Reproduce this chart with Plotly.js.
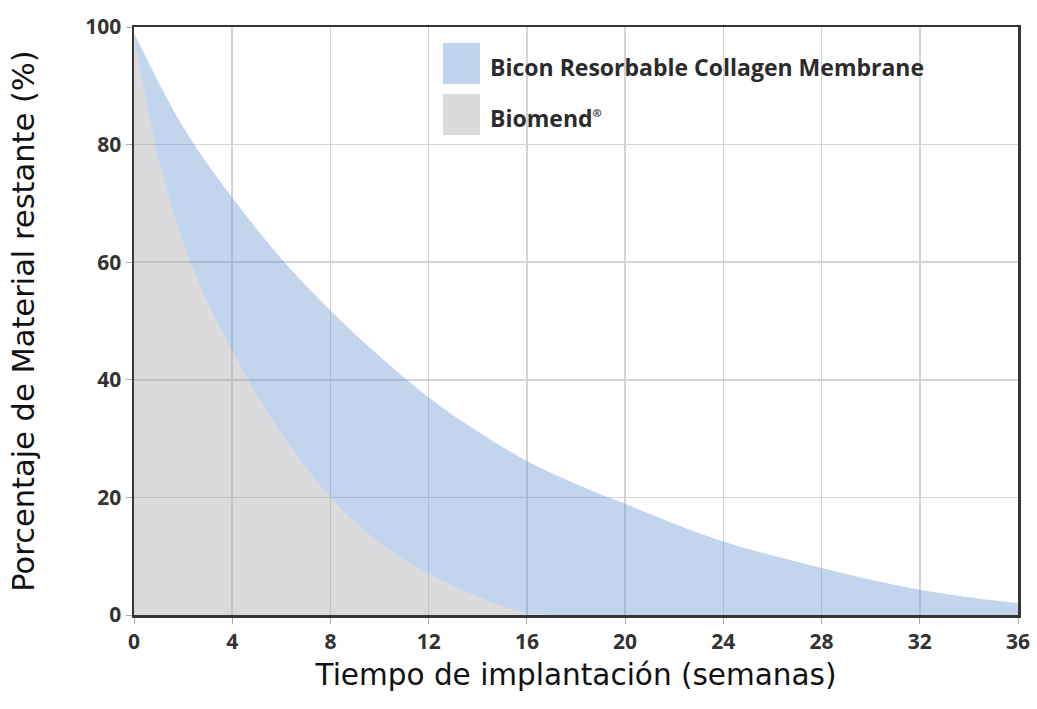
<!DOCTYPE html>
<html>
<head>
<meta charset="utf-8">
<script src="https://cdn.plot.ly/plotly-3.0.1.min.js"></script>
<style>html,body{margin:0;padding:0;background:#fff;}#chart{width:1037px;height:709px;}</style>
</head>
<body>
<div id="chart"></div>
<script>
// Series names
const seriesNames = ["Bicon Resorbable Collagen Membrane", "Biomend<sup><span style=\"font-size:11px\">®</span></sup>"];

// Bicon Resorbable Collagen Membrane (% remaining)
const biconWeeks  = [0, 2, 4, 6, 8, 10, 12, 14, 16, 18, 20, 22, 24, 26, 28, 30, 32, 34, 36];
const biconValues = [99, 83, 71, 60.6, 51.8, 44, 37, 31.2, 26.2, 22.3, 18.9, 15.5, 12.5, 10.1, 8.0, 6.0, 4.3, 3.0, 2.0];

// Biomend (% remaining)
const biomendWeeks  = [0, 1, 2, 3, 4, 5, 6, 7, 8, 9, 10, 11, 12, 13, 14, 15, 16, 17, 20, 24, 28, 32, 36];
const biomendValues = [99, 77.5, 63.5, 53, 45, 37.4, 30.8, 25.1, 20.0, 15.8, 12.3, 9.4, 7.0, 4.9, 3.1, 1.5, 0.3, 0, 0, 0, 0, 0, 0];

// Axis ticks
const xTicks = [0, 4, 8, 12, 16, 20, 24, 28, 32, 36];
const yTicks = [0, 20, 40, 60, 80, 100];

const xTitle = "Tiempo de implantación (semanas)";
const yTitle = "Porcentaje de Material restante (%)";

const blueFill = "rgba(102,150,210,0.4)";
const grayFill = "rgba(164,164,169,0.4)";
const blueSwatch = "rgb(193,212,237)";
const graySwatch = "rgb(219,219,221)";

const traces = [
  {
    x: biomendWeeks, y: biomendValues, type: "scatter", mode: "none",
    fill: "tozeroy", fillcolor: grayFill, line: {shape: "spline", smoothing: 1, width: 0},
    name: seriesNames[1], showlegend: false, hoverinfo: "skip"
  },
  {
    x: biconWeeks, y: biconValues, type: "scatter", mode: "none",
    fill: "tonexty", fillcolor: blueFill, line: {shape: "spline", smoothing: 1, width: 0},
    name: seriesNames[0], showlegend: false, hoverinfo: "skip"
  }
];

const tickFont = {family: "Open Sans, DejaVu Sans, sans-serif", size: 21, color: "#333333", weight: 700};

const layout = {
  width: 1037, height: 709,
  margin: {l: 134, r: 19, t: 27, b: 94},
  paper_bgcolor: "#ffffff", plot_bgcolor: "#ffffff",
  showlegend: false,
  xaxis: {
    range: [0, 36], tickvals: xTicks, ticktext: xTicks.map(String),
    showgrid: true, gridcolor: "rgb(212,212,212)", gridwidth: 1.5,
    zeroline: false, showline: true, mirror: true, linecolor: "#363636", linewidth: 2.5,
    ticks: "outside", ticklen: 6, tickcolor: "#aaaaaa", tickwidth: 1,
    tickfont: tickFont, fixedrange: true,
    title: {text: xTitle, font: {family: "DejaVu Sans, sans-serif", size: 29.5, color: "#111111"}, standoff: 11}
  },
  yaxis: {
    range: [0, 100], tickvals: yTicks, ticktext: yTicks.map(String),
    showgrid: true, gridcolor: "rgb(212,212,212)", gridwidth: 1.5,
    zeroline: false, showline: true, mirror: true, linecolor: "#363636", linewidth: 2.5,
    ticks: "outside", ticklen: 6, tickcolor: "#aaaaaa", tickwidth: 1,
    tickfont: tickFont, fixedrange: true,
    title: {text: yTitle, font: {family: "DejaVu Sans, sans-serif", size: 30.5, color: "#111111"}, standoff: 42}
  },
  shapes: [
    {type: "rect", xref: "paper", yref: "paper", x0: 0.3495, x1: 0.3914, y0: 0.9031, y1: 0.9728,
     fillcolor: blueSwatch, line: {width: 0}, layer: "above"},
    {type: "rect", xref: "paper", yref: "paper", x0: 0.3495, x1: 0.3914, y0: 0.8163, y1: 0.886,
     fillcolor: graySwatch, line: {width: 0}, layer: "above"}
  ],
  annotations: [
    {xref: "paper", yref: "paper", x: 0.4005, y: 0.932, xanchor: "left", yanchor: "middle",
     text: seriesNames[0], showarrow: false,
     font: {family: "Open Sans, DejaVu Sans, sans-serif", size: 23, color: "#2b2b2b", weight: 700}},
    {xref: "paper", yref: "paper", x: 0.4005, y: 0.846, xanchor: "left", yanchor: "middle",
     text: seriesNames[1], showarrow: false,
     font: {family: "Open Sans, DejaVu Sans, sans-serif", size: 23, color: "#2b2b2b", weight: 700}}
  ]
};

Plotly.newPlot("chart", traces, layout, {displayModeBar: false, staticPlot: true});
</script>
</body>
</html>
